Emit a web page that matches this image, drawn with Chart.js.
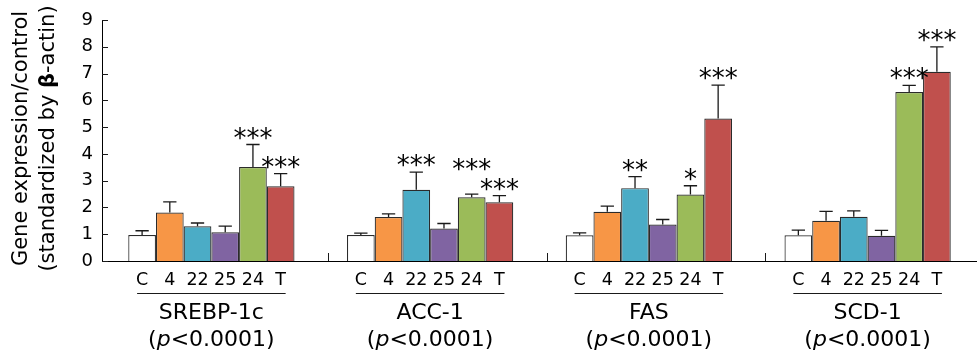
<!DOCTYPE html>
<html>
<head>
<meta charset="utf-8">
<script src="https://cdn.jsdelivr.net/npm/chart.js@4.4.1/dist/chart.umd.min.js"></script>
<style>
	html, body { margin: 0; padding: 0; background: #fff; }
	canvas { display: block; }
</style>
</head>
<body>
<canvas id="myChart" width="977" height="354"></canvas>
<script>
const genes = ['SREBP-1c', 'ACC-1', 'FAS', 'SCD-1']
const treatments = ['C', '4', '22', '25', '24', 'T']
const pValues = ['0.0001', '0.0001', '0.0001', '0.0001']
const yTicks = [0, 1, 2, 3, 4, 5, 6, 7, 8, 9]

// mean fold change per gene (SREBP-1c, ACC-1, FAS, SCD-1)
const valC  = [0.97, 0.97, 0.96, 0.96]
const val4  = [1.81, 1.64, 1.84, 1.50]
const val22 = [1.30, 2.66, 2.72, 1.65]
const val25 = [1.07, 1.21, 1.36, 0.94]
const val24 = [3.51, 2.38, 2.48, 6.31]
const valT  = [2.79, 2.19, 5.32, 7.07]

// upper error (SE)
const errC  = [0.16, 0.07, 0.09, 0.19]
const err4  = [0.40, 0.12, 0.21, 0.35]
const err22 = [0.12, 0.66, 0.43, 0.22]
const err25 = [0.23, 0.19, 0.19, 0.20]
const err24 = [0.84, 0.12, 0.33, 0.25]
const errT  = [0.47, 0.25, 1.25, 0.93]

const starsC  = ['', '', '', '']
const stars4  = ['', '', '', '']
const stars22 = ['', '***', '**', '']
const stars25 = ['', '', '', '']
const stars24 = ['***', '***', '*', '***']
const starsT  = ['***', '***', '***', '***']

const colors = ['#ffffff', '#f79646', '#4bacc6', '#8064a2', '#9bbb59', '#c0504d']
const values = [valC, val4, val22, val25, val24, valT]
const errs = [errC, err4, err22, err25, err24, errT]
const stars = [starsC, stars4, stars22, stars25, stars24, starsT]

let font = (size, style) => `${style || 'normal'} ${size}px "DejaVu Sans", Verdana, sans-serif`
let sepShift = 7

let figPlugin = {
	id: 'fig',
	afterDatasetsDraw: chart => {
		let ctx = chart.ctx
		let area = chart.chartArea
		let x = chart.scales.x, y = chart.scales.y
		ctx.save()
		ctx.strokeStyle = '#1a1a1a'
		ctx.fillStyle = '#000'
		// error bars
		let tops = []
		chart.data.datasets.forEach((ds, i) => {
			tops[i] = []
			chart.getDatasetMeta(i).data.forEach((bar, j) => {
				let top = y.getPixelForValue(ds.data[j] + errs[i][j])
				tops[i][j] = top
				let half = bar.width * 0.24
				ctx.lineWidth = 1.3
				ctx.beginPath()
				ctx.moveTo(bar.x, bar.y)
				ctx.lineTo(bar.x, top)
				ctx.moveTo(bar.x - half, top)
				ctx.lineTo(bar.x + half, top)
				ctx.stroke()
			})
		})
		// significance stars, lift one if it would collide with its right neighbour
		ctx.font = font(26)
		ctx.textAlign = 'center'
		ctx.textBaseline = 'alphabetic'
		genes.forEach((g, j) => {
			for (let i = 0; i < treatments.length; i++) {
				if (!stars[i][j]) continue
				let bar = chart.getDatasetMeta(i).data[j]
				let by = tops[i][j] + 2
				if (i + 1 < treatments.length && stars[i + 1][j]) {
					let nb = chart.getDatasetMeta(i + 1).data[j]
					let w1 = ctx.measureText(stars[i][j]).width, w2 = ctx.measureText(stars[i + 1][j]).width
					let ny = tops[i + 1][j] + 2
					if (bar.x + w1 / 2 > nb.x - w2 / 2 && Math.abs(by - ny) < 14) by = Math.min(by, ny) - 18
				}
				ctx.fillText(stars[i][j], bar.x, by)
			}
		})
		// inward ticks on y axis
		ctx.lineWidth = 1
		yTicks.forEach(v => {
			let py = Math.round(y.getPixelForValue(v)) + 0.5
			ctx.beginPath()
			ctx.moveTo(area.left, py)
			ctx.lineTo(area.left + 6, py)
			ctx.stroke()
		})
		// group separators on x axis
		for (let j = 1; j < genes.length; j++) {
			let bx = Math.round((x.getPixelForValue(j - 1) + x.getPixelForValue(j)) / 2 + sepShift) + 0.5
			ctx.beginPath()
			ctx.moveTo(bx, area.bottom)
			ctx.lineTo(bx, area.bottom - 8)
			ctx.stroke()
		}
		// labels under the axis
		ctx.textBaseline = 'alphabetic'
		genes.forEach((g, j) => {
			let first = chart.getDatasetMeta(0).data[j]
			let last = chart.getDatasetMeta(treatments.length - 1).data[j]
			let mid = (first.x + last.x) / 2
			ctx.textAlign = 'center'
			ctx.font = font(17.5)
			treatments.forEach((t, i) => {
				let b = chart.getDatasetMeta(i).data[j]
				ctx.fillText(t, b.x, area.bottom + 23.5)
			})
			ctx.beginPath()
			ctx.moveTo(first.x - 5, area.bottom + 32.5)
			ctx.lineTo(last.x + 5, area.bottom + 32.5)
			ctx.stroke()
			ctx.font = font(22)
			ctx.fillText(g, mid, area.bottom + 57.5)
			// (p<0.0001) with italic p
			let parts = [['(', font(22)], ['p', font(22, 'italic')], ['<' + pValues[j] + ')', font(22)]]
			let total = 0
			parts.forEach(p => { ctx.font = p[1]; total += ctx.measureText(p[0]).width })
			let px = mid - total / 2
			ctx.textAlign = 'left'
			parts.forEach(p => {
				ctx.font = p[1]
				ctx.fillText(p[0], px, area.bottom + 84.5)
				px += ctx.measureText(p[0]).width
			})
		})
		// y axis title, two lines, bold beta
		let cy = (area.top + area.bottom) / 2 - 2
		ctx.save()
		ctx.translate(22, cy)
		ctx.rotate(-Math.PI / 2)
		ctx.textAlign = 'center'
		ctx.textBaseline = 'middle'
		ctx.font = font(21)
		ctx.fillText('Gene expression/control', 0, 0)
		let parts2 = [['(standardized by ', font(21)], ['β', font(21, 'bold')], ['-actin)', font(21)]]
		let w2 = 0
		parts2.forEach(p => { ctx.font = p[1]; w2 += ctx.measureText(p[0]).width })
		let sx = -w2 / 2
		ctx.textAlign = 'left'
		parts2.forEach(p => {
			ctx.font = p[1]
			ctx.fillText(p[0], sx, 27)
			sx += ctx.measureText(p[0]).width
		})
		ctx.restore()
		ctx.restore()
	}
}

let datasets = treatments.map((t, i) => ({
	label: t,
	data: values[i],
	backgroundColor: colors[i],
	borderColor: '#2b2b2b',
	borderWidth: 1.2,
	borderSkipped: 'bottom',
	categoryPercentage: 0.76,
	barPercentage: 1.0
}))

new Chart(document.getElementById('myChart'), {
	type: 'bar',
	data: { labels: genes, datasets: datasets },
	options: {
		responsive: false,
		animation: false,
		devicePixelRatio: 1,
		layout: { padding: { top: 20, right: 0, bottom: 0, left: 0 } },
		plugins: { legend: { display: false }, tooltip: { enabled: false } },
		scales: {
			x: {
				grid: { display: false },
				border: { display: true, color: '#000', width: 1 },
				ticks: { display: false },
				afterFit: s => { s.height = 93 }
			},
			y: {
				min: 0,
				max: 9,
				grid: { display: false, drawTicks: false },
				border: { display: true, color: '#000', width: 1 },
				ticks: {
					stepSize: 1,
					padding: 9,
					color: '#000',
					font: { family: '"DejaVu Sans", Verdana, sans-serif', size: 18 }
				},
				afterFit: s => { s.width = 102 }
			}
		}
	},
	plugins: [figPlugin]
})
</script>
</body>
</html>
